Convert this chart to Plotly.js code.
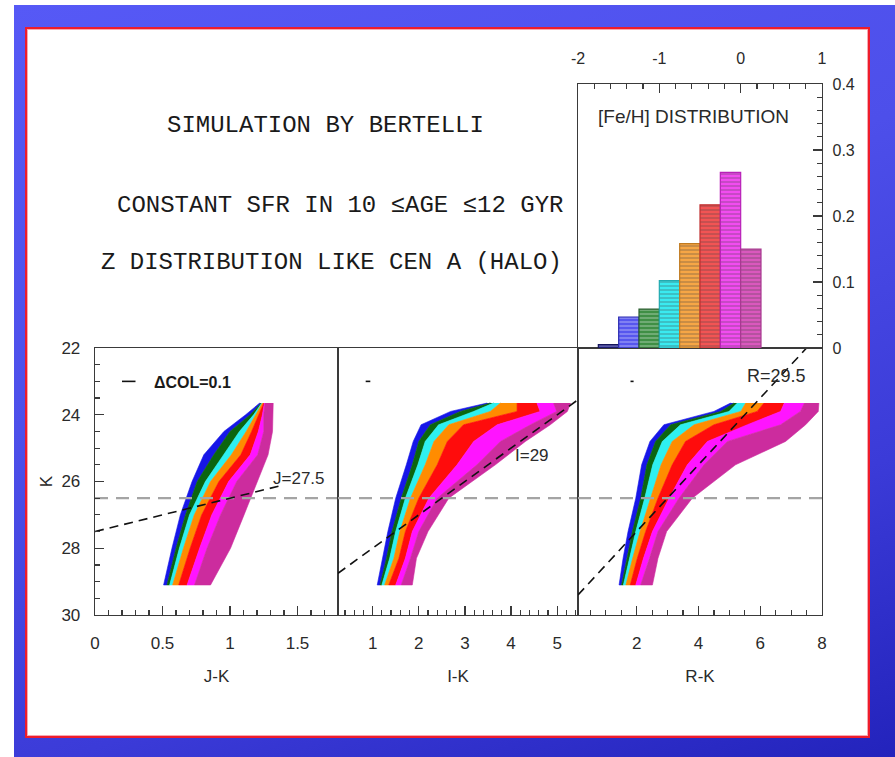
<!DOCTYPE html>
<html><head><meta charset="utf-8">
<script src="https://cdn.plot.ly/plotly-3.0.1.min.js"></script>
<style>
html,body{margin:0;padding:0;background:#fff;width:895px;height:757px;overflow:hidden;}
#bg{position:absolute;left:14px;top:5px;width:881px;height:752px;background:linear-gradient(160deg,#5659f6 0%,#4d4fea 40%,#3b3bd8 72%,#2323bc 100%);}
#frame{position:absolute;left:25px;top:27px;width:845px;height:711px;box-sizing:border-box;background:#fff;border:2px solid #ee1c2c;box-shadow:inset 0 0 0 1px #f7a8b0;}
#chart{position:absolute;left:0;top:0;width:895px;height:757px;}
</style></head>
<body><div id="bg"></div><div id="frame"></div><div id="chart"></div>
<script>
// ---------------- DATA ----------------
// [Fe/H] histogram (bin centres, fraction of stars)
const fehCenters  = [-1.625, -1.375, -1.125, -0.875, -0.625, -0.375, -0.125, 0.125];
const fehFraction = [0.005, 0.047, 0.059, 0.102, 0.158, 0.217, 0.266, 0.150];
const histColors  = ['#23238c', '#5656ee', '#3f8f45', '#3aeaf0', '#f6a646', '#f25454', '#f24cf0', '#da58be'];
const histEdges   = ['#14145a', '#2a2ab0', '#2a5e2e', '#22aab0', '#c07a20', '#c03030', '#b820b8', '#a83890'];

// CMD bands, one colour per metallicity bin (blue ... pink), left to right
const cmdColors = ['#1616e8', '#0b650f', '#2ef0f0', '#ff8c00', '#ff0c0c', '#ff14ff', '#cc2c9e'];

// J-K panel: K levels and colour boundaries (left edge, 6 band boundaries, right edge)
const jkK = [23.65, 24.0, 24.5, 25.2, 26.0, 27.0, 28.0, 29.1];
const jkEdges = [
  [1.22, 1.23, 1.235, 1.24, 1.25, 1.255, 1.26, 1.32],
  [1.116, 1.15, 1.175, 1.19, 1.215, 1.24, 1.25, 1.32],
  [0.955, 1.0, 1.07, 1.12, 1.16, 1.21, 1.25, 1.315],
  [0.806, 0.88, 0.955, 1.01, 1.08, 1.15, 1.205, 1.282],
  [0.719, 0.757, 0.818, 0.856, 0.918, 0.99, 1.05, 1.203],
  [0.632, 0.67, 0.70, 0.735, 0.79, 0.865, 0.93, 1.104],
  [0.57, 0.60, 0.625, 0.655, 0.705, 0.775, 0.83, 1.004],
  [0.508, 0.533, 0.553, 0.575, 0.620, 0.682, 0.737, 0.856]
];
// I-K panel
const ikK = [23.65, 23.9, 24.3, 24.8, 25.5, 26.5, 27.5, 28.3, 29.1];
const ikEdges = [
  [3.48, 3.55, 3.62, 3.77, 4.13, 4.56, 4.92, 5.29],
  [2.69, 2.90, 3.19, 3.55, 4.13, 4.63, 4.99, 5.22],
  [2.05, 2.25, 2.43, 2.65, 2.97, 3.70, 4.42, 4.85],
  [1.88, 2.00, 2.14, 2.33, 2.62, 3.19, 3.77, 4.31],
  [1.73, 1.86, 1.98, 2.14, 2.40, 2.83, 3.26, 3.66],
  [1.50, 1.62, 1.71, 1.82, 2.00, 2.22, 2.40, 2.65],
  [1.33, 1.42, 1.50, 1.59, 1.71, 1.86, 2.00, 2.20],
  [1.21, 1.30, 1.37, 1.46, 1.57, 1.71, 1.82, 1.95],
  [1.10, 1.16, 1.20, 1.26, 1.35, 1.50, 1.62, 1.86]
];
// R-K panel
const rkK = [23.65, 23.9, 24.3, 24.8, 25.5, 26.5, 27.5, 28.3, 29.1];
const rkEdges = [
  [5.04, 5.15, 5.26, 5.53, 6.12, 6.78, 7.43, 7.90],
  [4.50, 4.72, 4.99, 5.37, 5.90, 6.66, 7.30, 7.88],
  [2.88, 3.10, 3.42, 3.86, 4.50, 5.58, 6.66, 7.47],
  [2.43, 2.61, 2.83, 3.15, 3.58, 4.29, 4.94, 6.82],
  [2.16, 2.33, 2.52, 2.79, 3.15, 3.64, 4.18, 5.20],
  [1.97, 2.13, 2.26, 2.45, 2.69, 3.05, 3.37, 3.80],
  [1.72, 1.86, 1.97, 2.11, 2.29, 2.51, 2.69, 2.97],
  [1.56, 1.68, 1.76, 1.87, 2.02, 2.22, 2.40, 2.69],
  [1.43, 1.51, 1.57, 1.65, 1.79, 1.97, 2.13, 2.51]
];
// completeness level (grey) and limiting magnitudes (black)
const kLimit = 26.5;
const jLimit = 27.5, iLimit = 29, rLimit = 29.5;
const jLineColors = [0, 1.4];
const iLineColors = [0.25, 5.45];
const rLineColors = [0.1, 7.5];
const colErr = 0.1, errK = 23.0;
const errStart = [0.2, 0.85, 1.8];

const panelRanges = [[0, 1.8], [0.25, 5.45], [0.1, 8]];

// ---------------- TRACES ----------------
const traces = [];
function bands(levels, edges, xa, ya) {
  for (let i = 0; i < 7; i++) {
    const left = levels.map((_, j) => edges[j][i]);
    const right = levels.map((_, j) => edges[j][i + 1]);
    traces.push({
      type: 'scatter', mode: 'lines', xaxis: xa, yaxis: ya,
      x: left.concat(right.slice().reverse()),
      y: levels.concat(levels.slice().reverse()),
      fill: 'toself', fillcolor: cmdColors[i],
      line: {color: cmdColors[i], width: 0.6},
      hoverinfo: 'skip', showlegend: false
    });
  }
}
bands(jkK, jkEdges, 'x', 'y');
bands(ikK, ikEdges, 'x2', 'y2');
bands(rkK, rkEdges, 'x3', 'y3');

const axPairs = [['x', 'y'], ['x2', 'y2'], ['x3', 'y3']];
axPairs.forEach((p, k) => {
  traces.push({type: 'scatter', mode: 'lines', xaxis: p[0], yaxis: p[1],
    x: panelRanges[k], y: [kLimit, kLimit],
    line: {color: '#a4a4a4', width: 2.2, dash: '13px,8px'}, hoverinfo: 'skip', showlegend: false});
});
const lims = [[jLimit, jLineColors], [iLimit, iLineColors], [rLimit, rLineColors]];
lims.forEach((l, k) => {
  traces.push({type: 'scatter', mode: 'lines', xaxis: axPairs[k][0], yaxis: axPairs[k][1],
    x: l[1], y: l[1].map(c => l[0] - c),
    line: {color: '#111', width: 1.6, dash: '9px,6px'}, hoverinfo: 'skip', showlegend: false});
});
errStart.forEach((s, k) => {
  traces.push({type: 'scatter', mode: 'lines', xaxis: axPairs[k][0], yaxis: axPairs[k][1],
    x: [s, s + colErr], y: [errK, errK],
    line: {color: '#111', width: 1.6}, hoverinfo: 'skip', showlegend: false});
});

traces.push({
  type: 'bar', xaxis: 'x4', yaxis: 'y4', x: fehCenters, y: fehFraction, width: 0.25,
  marker: {color: histColors, line: {color: histEdges, width: 1.2},
           pattern: {shape: '-', fillmode: 'overlay',
                     fgcolor: 'rgba(255,255,255,0.55)', size: 4, solidity: 0.25}},
  hoverinfo: 'skip', showlegend: false
});

// ---------------- LAYOUT ----------------
const W = 895, H = 757;
const px = v => v / W, py = v => 1 - v / H;
const base = {
  showgrid: false, zeroline: false, showline: true, mirror: true,
  linecolor: '#3a3a3a', linewidth: 1.3, ticks: 'inside', tickcolor: '#3a3a3a',
  ticklen: 9, tickwidth: 1.2, tickfont: {size: 17, color: '#2a2a2a'}
};
const yDom = [py(615), py(348)];
const layout = {
  width: W, height: H, margin: {l: 0, r: 0, t: 0, b: 0},
  paper_bgcolor: 'rgba(0,0,0,0)', plot_bgcolor: 'rgba(0,0,0,0)',
  showlegend: false, bargap: 0,
  font: {family: 'Liberation Sans, Arial, sans-serif', color: '#2a2a2a'},
  xaxis: Object.assign({}, base, {domain: [px(95), px(338)], range: panelRanges[0], anchor: 'y',
    tickvals: [0, 0.5, 1, 1.5], ticktext: ['0', '0.5', '1', '1.5'], ticklabelstandoff: 12,
    minor: {tick0: 0, dtick: 0.1, ticklen: 5, ticks: 'inside', tickcolor: '#3a3a3a'},
    title: {text: 'J-K', font: {size: 17}, standoff: 18}}),
  yaxis: Object.assign({}, base, {domain: yDom, range: [30, 22], anchor: 'x',
    tickvals: [22, 24, 26, 28, 30], ticklabelstandoff: 10,
    minor: {tick0: 22, dtick: 0.5, ticklen: 5, ticks: 'inside', tickcolor: '#3a3a3a'},
    title: {text: 'K', font: {size: 17}, standoff: 4}}),
  xaxis2: Object.assign({}, base, {domain: [px(338), px(578)], range: panelRanges[1], anchor: 'y2',
    tickvals: [1, 2, 3, 4, 5], ticklabelstandoff: 12,
    minor: {tick0: 0, dtick: 0.2, ticklen: 5, ticks: 'inside', tickcolor: '#3a3a3a'},
    title: {text: 'I-K', font: {size: 17}, standoff: 18}}),
  yaxis2: Object.assign({}, base, {domain: yDom, range: [30, 22], anchor: 'x2',
    ticks: '', showticklabels: false}),
  xaxis3: Object.assign({}, base, {domain: [px(578), px(822)], range: panelRanges[2], anchor: 'y3',
    tickvals: [2, 4, 6, 8], ticklabelstandoff: 12,
    minor: {tick0: 0, dtick: 0.5, ticklen: 5, ticks: 'inside', tickcolor: '#3a3a3a'},
    title: {text: 'R-K', font: {size: 17}, standoff: 18}}),
  yaxis3: Object.assign({}, base, {domain: yDom, range: [30, 22], anchor: 'x3',
    ticks: '', showticklabels: false}),
  xaxis4: Object.assign({}, base, {domain: [px(578), px(822)], range: [-2, 1], anchor: 'y4', side: 'top',
    tickvals: [-2, -1, 0, 1], ticktext: ['-2', '-1', '0', '1'], ticklabelstandoff: 12,
    tickfont: {size: 16, color: '#2a2a2a'},
    minor: {tick0: 0, dtick: 0.2, ticklen: 5, ticks: 'inside', tickcolor: '#3a3a3a'}}),
  yaxis4: Object.assign({}, base, {domain: [py(348), py(84)], range: [0, 0.4], anchor: 'x4', side: 'right',
    tickvals: [0, 0.1, 0.2, 0.3, 0.4], ticktext: ['0', '0.1', '0.2', '0.3', '0.4'],
    ticklabelstandoff: 6, tickfont: {size: 16, color: '#2a2a2a'},
    minor: {tick0: 0, dtick: 0.02, ticklen: 5, ticks: 'inside', tickcolor: '#3a3a3a'}}),
  annotations: [
    {xref: 'paper', yref: 'paper', x: px(325), y: py(125), text: 'SIMULATION BY BERTELLI',
     showarrow: false, xanchor: 'center', yanchor: 'middle',
     font: {family: 'Liberation Mono, Courier New, monospace', size: 24, color: '#1a1a1a'}},
    {xref: 'paper', yref: 'paper', x: px(340), y: py(206), text: 'CONSTANT SFR IN 10 \u2264AGE \u226412 GYR',
     showarrow: false, xanchor: 'center', yanchor: 'middle',
     font: {family: 'Liberation Mono, Courier New, monospace', size: 24, color: '#1a1a1a'}},
    {xref: 'paper', yref: 'paper', x: px(331), y: py(262), text: 'Z DISTRIBUTION LIKE CEN A (HALO)',
     showarrow: false, xanchor: 'center', yanchor: 'middle',
     font: {family: 'Liberation Mono, Courier New, monospace', size: 24, color: '#1a1a1a'}},
    {xref: 'paper', yref: 'paper', x: px(693), y: py(117), text: '[Fe/H] DISTRIBUTION',
     showarrow: false, xanchor: 'center', yanchor: 'middle',
     font: {size: 19, color: '#2a2a2a'}},
    {xref: 'x', yref: 'y', x: 0.72, y: 23.02, text: '<b>\u0394COL=0.1</b>',
     showarrow: false, xanchor: 'center', yanchor: 'middle', font: {size: 16, color: '#1a1a1a'}},
    {xref: 'x', yref: 'y', x: 1.51, y: 25.9, text: 'J=27.5',
     showarrow: false, xanchor: 'center', yanchor: 'middle', font: {size: 17, color: '#2a2a2a'}},
    {xref: 'x2', yref: 'y2', x: 4.46, y: 25.23, text: 'I=29',
     showarrow: false, xanchor: 'center', yanchor: 'middle', font: {size: 17, color: '#2a2a2a'}},
    {xref: 'x3', yref: 'y3', x: 6.53, y: 22.84, text: 'R=29.5',
     showarrow: false, xanchor: 'center', yanchor: 'middle', font: {size: 18, color: '#2a2a2a'}}
  ]
};

Plotly.newPlot('chart', traces, layout, {displayModeBar: false, staticPlot: true});
</script></body></html>
